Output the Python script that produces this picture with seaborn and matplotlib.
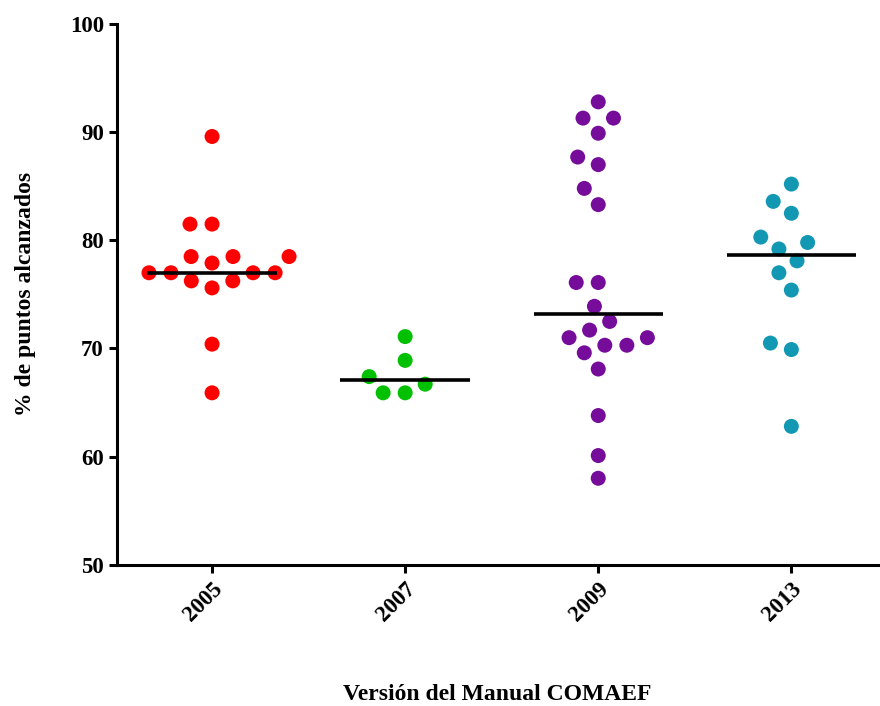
import matplotlib
matplotlib.use("Agg")
import matplotlib.pyplot as plt
import pandas as pd
import numpy as np
import seaborn as sns

# valores (% de puntos alcanzados)
versiones = ["2005", "2007", "2009", "2013"]
v2005 = [89.6, 81.5, 81.5, 78.5, 78.5, 78.5, 77.9, 77.0, 77.0, 77.0, 77.0,
         76.25, 76.25, 75.6, 70.4, 65.9]
v2007 = [71.1, 68.9, 67.4, 66.7, 65.9, 65.9]
v2009 = [92.8, 91.3, 91.3, 89.9, 87.7, 87.0, 84.8, 83.3, 76.1, 76.1, 73.9,
         72.5, 71.7, 71.0, 71.0, 70.3, 70.3, 69.6, 68.1, 63.8, 60.1, 58.0]
v2013 = [85.2, 83.6, 82.5, 80.3, 79.8, 79.2, 78.1, 77.0, 75.4, 70.5, 69.9, 62.8]
colores = ["#ff0000", "#00c000", "#750c9a", "#1398b4"]

df = pd.DataFrame({
    "version": np.repeat(versiones, [len(v2005), len(v2007), len(v2009), len(v2013)]),
    "valor": v2005 + v2007 + v2009 + v2013,
})

sns.set_style("ticks", {"axes.edgecolor": "black", "xtick.color": "black",
                        "ytick.color": "black", "text.color": "black",
                        "axes.labelcolor": "black"})
plt.rcParams["font.family"] = ["Liberation Serif", "DejaVu Serif"]
plt.rcParams["font.weight"] = "bold"

fig = plt.figure(figsize=(8.8, 7.06), dpi=100)
ax = fig.add_axes([0.133, 0.2, 0.865, 0.766])

# borde blanco para separar los puntos como en el original
sns.swarmplot(data=df, x="version", y="valor", hue="version", order=versiones,
              palette=colores, size=12.95, linewidth=2.15, edgecolor="white",
              legend=False, ax=ax)

# linea de la mediana
medianas = df.groupby("version")["valor"].median().reindex(versiones)
for i, m in enumerate(medianas):
    ax.hlines(m, i - 0.335, i + 0.335, color="black", lw=2.6, zorder=5)

ax.set_ylim(50, 100)
ax.set_yticks([50, 60, 70, 80, 90, 100])
ax.set_xlim(-0.492, 3.45)
sns.despine(ax=ax)
for s in ["left", "bottom"]:
    ax.spines[s].set_linewidth(2.2)
ax.tick_params(axis="both", width=2.2, length=6, labelsize=16.5, direction="out")
plt.setp(ax.get_xticklabels(), rotation=45, ha="right", va="top",
         rotation_mode="anchor", fontweight="bold")
plt.setp(ax.get_yticklabels(), fontweight="bold")

ax.set_xlabel("Versión del Manual COMAEF", fontsize=17, fontweight="bold", labelpad=42)
ax.set_ylabel("% de puntos alcanzados", fontsize=17, fontweight="bold", labelpad=24)

plt.savefig("out.png", dpi=100)
